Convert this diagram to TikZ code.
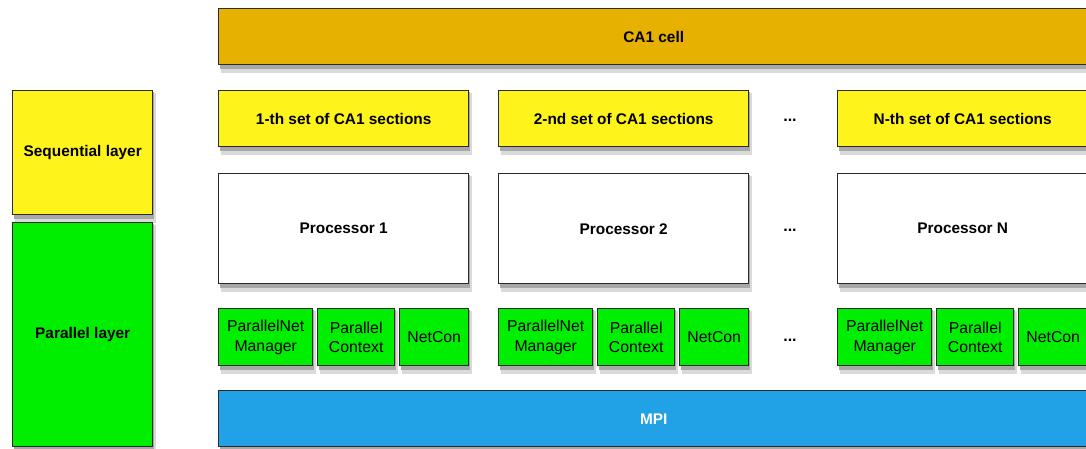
\documentclass[tikz,border=0pt]{standalone}
\usepackage{fontspec}
\setmainfont{Liberation Sans}
\definecolor{cellgold}{HTML}{E6B100}
\definecolor{setyellow}{HTML}{FFF31C}
\definecolor{layergreen}{HTML}{00EE00}
\definecolor{mpiblue}{HTML}{22A2E6}
\definecolor{edge}{HTML}{2A2A2A}
\definecolor{mpitext}{HTML}{FFFFFF}
\definecolor{shadowfar}{HTML}{DADADA}
\definecolor{shadownear}{HTML}{A8A8A8}

\tikzset{
  box/.style={draw=edge, line width=1.4pt, anchor=north west, inner sep=0pt,
    align=center, font=\fontsize{15.4}{18}\selectfont\bfseries},
  smallbox/.style={box, fill=layergreen, minimum height=57pt,
    font=\fontsize{15.8}{19.5}\selectfont},
  dots/.style={font=\fontsize{16}{18}\selectfont\bfseries},
  shadowbox/.style={fill=shadowfar, draw=none}
}

\begin{document}
\begin{tikzpicture}[x=1pt,y=-1pt]
\useasboundingbox (0,0) rectangle (1086,449);
% soft drop shadows (x, y, width, height of each box)
\foreach \sx/\sy/\sw/\sh in {12/90/140/124, 12/222/140/224, 218/8/870/56, 218/390/870/56,
    218/90/250/56, 498/90/250/56, 837/90/250/56, 218/173/250/110, 498/173/250/110, 837/173/250/110,
    218/308/94/57, 317/308/77/57, 399/308/69/57, 498/308/94/57, 597/308/77/57, 679/308/69/57,
    837/308/94/57, 936/308/77/57, 1018/308/69/57}{
  \fill[shadowbox] (\sx+3,\sy+3) rectangle ++(\sw+1,\sh+6);
  \fill[shadownear] (\sx+2,\sy+2) rectangle ++(\sw,\sh+3);
}
% layer labels
\node[box, fill=setyellow, minimum width=140pt, minimum height=124pt] (seq) at (12,90) {Sequential layer};
\node[box, fill=layergreen, minimum width=140pt, minimum height=224pt] (par) at (12,222) {Parallel layer};
% top and bottom bars
\node[box, fill=cellgold, minimum width=870pt, minimum height=56pt] (cell) at (218,8) {CA1 cell};
\node[box, fill=mpiblue, text=mpitext, minimum width=870pt, minimum height=56pt] (mpi) at (218,390) {MPI};
% one column per processor
\foreach \x/\lbl/\n in {218/1-th/1, 498/2-nd/2, 837/N-th/N}{
  \node[box, fill=setyellow, minimum width=250pt, minimum height=56pt] (set\n) at (\x,90) {\lbl{} set of CA1 sections};
  \node[box, fill=white, minimum width=250pt, minimum height=110pt] (proc\n) at (\x,173) {Processor \n};
  \node[smallbox, minimum width=94pt] (pnm\n) at (\x,308) {ParallelNet\\Manager};
  \node[smallbox, minimum width=77pt] (pc\n) at (\x+99,308) {Parallel\\Context};
  \node[smallbox, minimum width=69pt] (nc\n) at (\x+181,308) {NetCon};
}
\foreach \y/\n in {120/1, 230/2, 340/3}{
  \node[dots] (dots\n) at (790,\y) {...};
}
\end{tikzpicture}
\end{document}
